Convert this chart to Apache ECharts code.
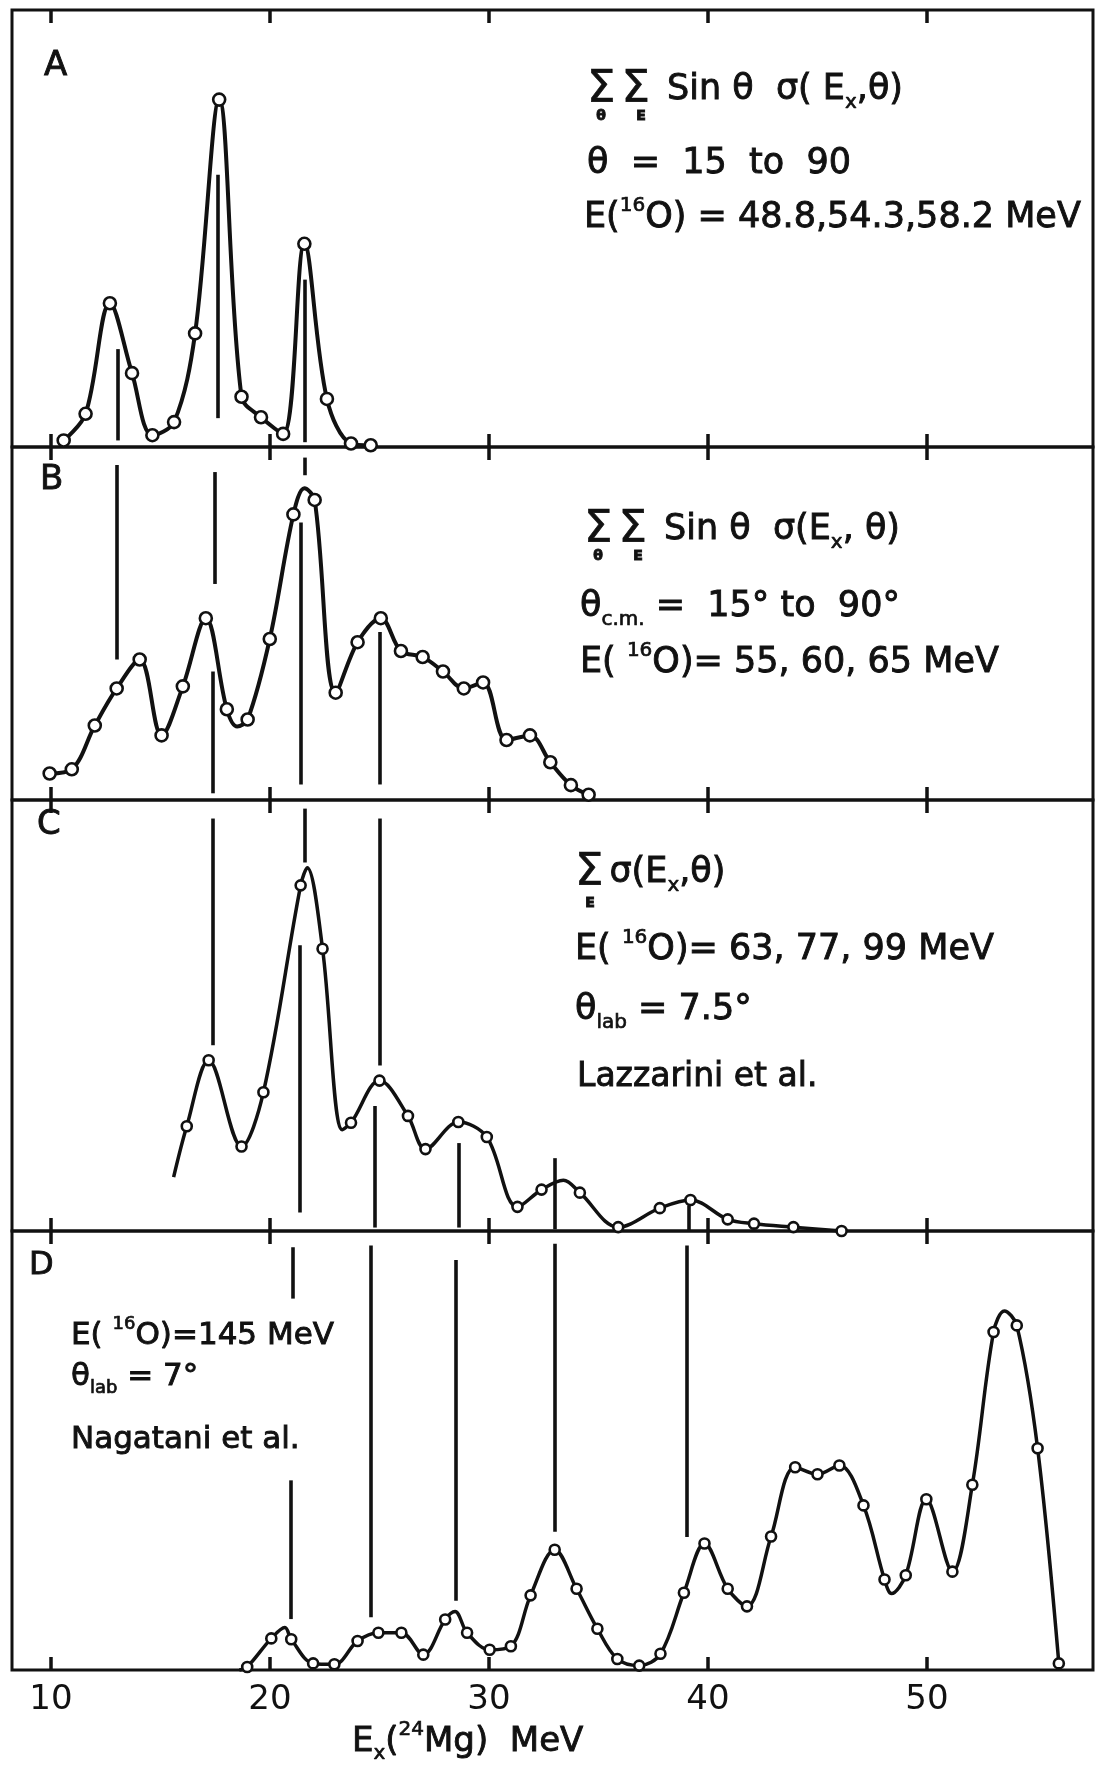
<!DOCTYPE html>
<html><head><meta charset="utf-8">
<script src="https://cdn.jsdelivr.net/npm/echarts@6/dist/echarts.min.js"></script>
<style>html,body{margin:0;padding:0;background:#fff}#c{width:1110px;height:1783px}</style>
</head><body><div id="c"></div>
<script>
// ---------- data (E in MeV, relative intensity 0..100 of each panel) ----------
const xTicks = [10, 20, 30, 40, 50];
const xTickLabels = ['10', '20', '30', '40', '50'];

const aPoints = [[10.58,1.5],[11.58,7.6],[12.69,32.9],[13.70,16.9],[14.63,2.7],[15.62,5.7],[16.58,26.0],[17.68,79.5],[18.70,11.5],[19.59,6.8],[20.6,3.0],[21.57,46.5],[22.6,11.0],[23.7,0.8],[24.6,0.4]];
const aCurveExtra = [];
const aMarkers = [[13.05,22.4,1.5],[17.6,62.3,6.6],[21.57,38.3,1.1]];

const bPoints = [[9.94,7.5],[10.95,8.7],[12.0,21.1],[13.0,31.6],[14.05,39.8],[15.05,18.3],[16.02,32.2],[17.07,51.5],[18.03,25.7],[18.98,22.8],[19.99,45.6],[21.07,80.9],[22.04,85.0],[23.0,30.4],[24.0,44.7],[25.06,51.5],[25.98,42.2],[26.97,40.5],[27.9,36.4],[28.85,31.6],[29.73,33.3],[30.8,17.0],[31.87,18.3],[32.8,10.7],[33.74,4.2],[34.55,1.5]];
const bCurveExtra = [[18.5,20.8],[21.57,88.3]];
const bMarkers = [[13.0,94.9,39.8],[17.5,92.9,61.2],[17.4,36.4,1.9],[21.57,97,92],[21.42,78.6,4.4],[25.02,47.6,4.4]];

const cPoints = [[16.2,24.3],[17.2,39.6],[18.7,19.6],[19.7,32.2],[21.4,80.2],[22.4,65.5],[23.7,25.1],[25.0,34.9],[26.3,26.7],[27.1,19.0],[28.6,25.3],[29.9,21.8],[31.3,5.6],[32.4,9.6],[34.15,8.9],[35.9,0.9],[37.8,5.3],[39.2,7.2],[40.9,2.7],[42.1,1.7],[43.9,0.9],[46.1,0.0]];
const cCurveExtra = [[15.6,12.5],[21.7,84.3],[23.3,23.5],[33.4,11.8]];
const cMarkers = [[17.37,95.7,43.1],[21.6,98,85.5],[21.35,66.3,4.3],[25.0,95.7,38.4],[24.8,29,0.8],[28.6,20.4,0.8],[33.0,16.9,0.4],[39.1,5.9,0]];

const dPoints = [[18.96,0.7],[20.06,7.2],[20.97,7.0],[21.97,1.5],[22.94,1.3],[24.0,6.6],[24.95,8.5],[26.0,8.5],[27.0,3.5],[28.0,11.5],[29.0,8.5],[30.03,4.6],[31.0,5.4],[31.9,17.0],[33.0,27.4],[34.0,18.5],[34.95,9.4],[35.86,2.5],[36.86,1.0],[37.83,3.7],[38.9,17.6],[39.84,28.8],[40.9,18.5],[41.78,14.5],[42.88,30.4],[43.98,46.2],[45.0,44.6],[46.0,46.6],[47.1,37.5],[48.06,20.6],[49.03,21.6],[49.97,38.9],[51.16,22.4],[52.07,42.2],[53.04,77.0],[54.1,78.5],[55.05,50.5],[56.02,1.5]];
const dCurveExtra = [[18.6,0.0],[20.68,9.7],[28.45,13.3],[48.38,17.4],[53.53,81.8]];
const dMarkers = [[21.05,96.3,84.6],[20.96,43.2,11.6],[24.6,96.7,12.0],[28.5,93.4,15.8],[33.0,97.1,31.5],[39.05,96.7,30.3]];

// ---------- chart ----------
const INK = '#111';
const FONT = '"DejaVu Sans", "Liberation Sans", sans-serif';
const X_MIN = 8.22, X_MAX = 57.58;
const panels = [
  {pts:aPoints, extra:aCurveExtra, marks:aMarkers, top:10,   height:437, sym:12, lw:4.0},
  {pts:bPoints, extra:bCurveExtra, marks:bMarkers, top:447,  height:353, sym:12, lw:4.0},
  {pts:cPoints, extra:cCurveExtra, marks:cMarkers, top:800,  height:431, sym:10, lw:3.5},
  {pts:dPoints, extra:dCurveExtra, marks:dMarkers, top:1231, height:439, sym:10, lw:3.5}
];

const grid = [], xAxis = [], yAxis = [], series = [];
panels.forEach((p, i) => {
  grid.push({left:12, right:17, top:p.top, height:p.height, show:true, borderColor:INK, borderWidth:3, backgroundColor:'transparent'});
  ['bottom','top'].forEach(pos => {
    const isLabelAxis = (i === 3 && pos === 'bottom');
    xAxis.push({
      type:'value', gridIndex:i, position:pos, min:X_MIN, max:X_MAX,
      axisLine:{show:false}, splitLine:{show:false},
      axisTick:{show:true, inside:true, length:13, customValues:xTicks, lineStyle:{color:INK, width:3.5}},
      axisLabel:{show:isLabelAxis, customValues:xTicks, margin:13, fontSize:34, fontFamily:FONT, color:INK,
        formatter: v => xTickLabels[xTicks.indexOf(v)] || ''}
    });
  });
  yAxis.push({type:'value', gridIndex:i, min:0, max:100, show:false});
  const curve = p.pts.concat(p.extra).sort((a,b) => a[0]-b[0]);
  series.push({type:'line', xAxisIndex:2*i, yAxisIndex:i, data:curve, smooth:0.35, symbol:'none',
    lineStyle:{color:INK, width:p.lw}, z:2, silent:true, animation:false, clip:false});
  series.push({type:'scatter', xAxisIndex:2*i, yAxisIndex:i, data:p.pts, symbol:'circle', symbolSize:p.sym,
    itemStyle:{color:'#fff', opacity:1, borderColor:INK, borderWidth:2.6}, z:4, silent:true, animation:false, clip:false,
    markLine:{symbol:'none', silent:true, animation:false, label:{show:false}, z:1,
      lineStyle:{color:INK, width:3.6, type:'solid', opacity:1},
      data:p.marks.map(m => [{coord:[m[0], m[1]]}, {coord:[m[0], m[2]]}])}
  });
});

function rich(s) {
  const small = Math.round(s * 0.58);
  const base = {fontFamily:FONT, fill:INK, stroke:INK, lineWidth:0.7};
  return {
    sup:Object.assign({fontSize:small, lineHeight:small, verticalAlign:'top'}, base),
    sub:Object.assign({fontSize:small, lineHeight:small, verticalAlign:'bottom'}, base),
    sig:Object.assign({fontSize:Math.round(s*1.28), padding:[0,6,0,0]}, base)
  };
}
function txt(x, y, text, size, extra) {
  return {type:'text', x:x, y:y, silent:true, z:10,
    style:Object.assign({text:text, fill:INK, stroke:INK, lineWidth:0.9, fontFamily:FONT, fontSize:size, lineHeight:size+10,
      align:'left', verticalAlign:'middle', rich:rich(size)}, extra || {})};
}
const graphic = [
  // panel A
  txt(44, 66, 'A', 34),
  txt(587, 90, '{sig|Σ}{sig|Σ} Sin θ  σ( E{sub|x},θ)', 35),
  txt(601, 116, 'θ', 14, {align:'center', fontWeight:'bold'}),
  txt(641, 116, 'E', 14, {align:'center', fontWeight:'bold'}),
  txt(587, 164, 'θ  =  15  to  90', 35),
  txt(584, 218, 'E({sup|16}O) = 48.8,54.3,58.2 MeV', 35),
  // panel B
  txt(40, 480, 'B', 34),
  txt(584, 530, '{sig|Σ}{sig|Σ} Sin θ  σ(E{sub|x}, θ)', 35),
  txt(598, 556, 'θ', 14, {align:'center', fontWeight:'bold'}),
  txt(638, 556, 'E', 14, {align:'center', fontWeight:'bold'}),
  txt(580, 607, 'θ{sub|c.m.} =  15° to  90°', 35),
  txt(580, 663, 'E( {sup|16}O)= 55, 60, 65 MeV', 35),
  // panel C
  txt(37, 825, 'C', 34),
  txt(575, 873, '{sig|Σ}σ(E{sub|x},θ)', 35),
  txt(590, 903, 'E', 14, {align:'center', fontWeight:'bold'}),
  txt(575, 950, 'E( {sup|16}O)= 63, 77, 99 MeV', 35),
  txt(575, 1010, 'θ{sub|lab} = 7.5°', 35),
  txt(577, 1077, 'Lazzarini et al.', 33),
  // panel D
  txt(29, 1266, 'D', 32),
  txt(71, 1336, 'E( {sup|16}O)=145 MeV', 31),
  txt(71, 1377, 'θ{sub|lab} = 7°', 31),
  txt(71, 1440, 'Nagatani et al.', 31),
  // axis title
  txt(352, 1742, 'E{sub|x}({sup|24}Mg)  MeV', 34)
];

const chart = echarts.init(document.getElementById('c'), null, {renderer:'canvas'});
chart.setOption({backgroundColor:'#fff', animation:false, grid, xAxis, yAxis, series, graphic});
</script>
</body></html>
